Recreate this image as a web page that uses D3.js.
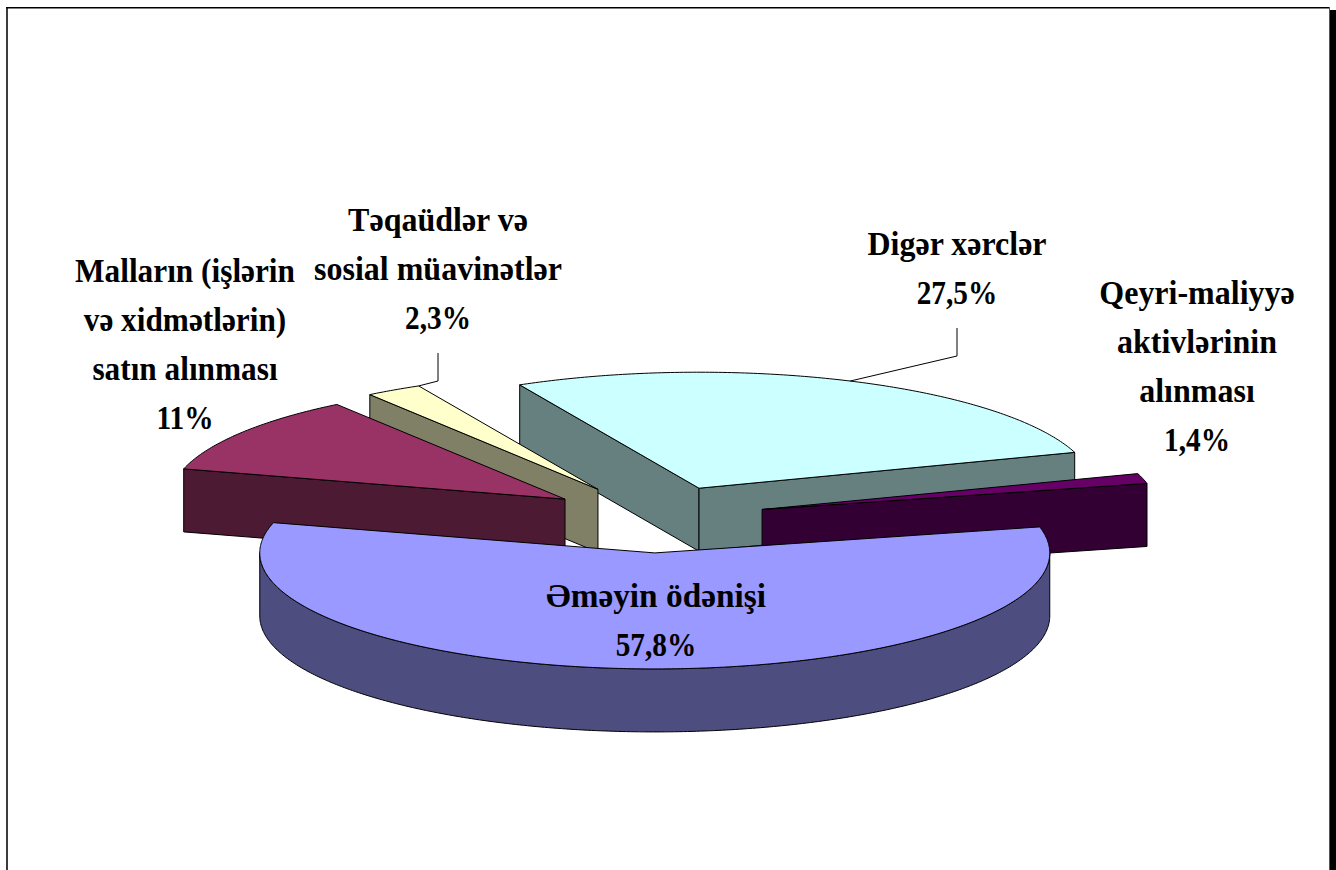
<!DOCTYPE html>
<html>
<head>
<meta charset="utf-8">
<title>Pie</title>
<script src="https://cdnjs.cloudflare.com/ajax/libs/d3/7.8.5/d3.min.js"></script>
<style>
html, body { margin: 0; padding: 0; background: #fff; overflow: hidden; }
svg { display: block; }
text { font-family: "Liberation Serif", serif; font-weight: bold; fill: #000; }
</style>
</head>
<body>
<script>
//values, clockwise from the first slice
var categories = ["Digər xərclər", "Qeyri-maliyyə aktivlərinin alınması", "Əməyin ödənişi", "Malların (işlərin və xidmətlərin) satın alınması", "Təqaüdlər və sosial müavinətlər"];
var shares = [27.5, 1.4, 57.8, 11, 2.3];
var explosion = [27.8, 27.6, 30.1, 28.4, 28.9];

var labelLines = [
	["Digər xərclər"],
	["Qeyri-maliyyə", "aktivlərinin", "alınması"],
	["Əməyin ödənişi"],
	["Malların (işlərin", "və xidmətlərin)", "satın alınması"],
	["Təqaüdlər və", "sosial müavinətlər"]
];

var topColors = ["#CCFFFF", "#660066", "#9999FF", "#993366", "#FFFFCC"];
var wallColors = ["#668080", "#330033", "#4D4D80", "#4D1A33", "#808066"];

var w = 1336;
var h = 870;
var cx = 657, cy = 518;   //centre of the un-exploded pie
var rx = 395, ry = 116;   //radii of the tilted ellipse
var depth = 63;
var firstAngle = -27 * Math.PI / 180;

//where each label block sits: centre x, first baseline
var labelPos = [[957, 255], [1197, 304], [656, 607], [185, 282], [438, 231]];
var lineGap = 49;
var fontSize = 33.5;
//the original font is narrower than Liberation at this height
var nameStretch = [0.955, 0.955, 0.995, 0.935, 0.955];
var shareStretch = 0.875;
//paint order, back to front
var paintOrder = [0, 4, 1, 3, 2];

var svg = d3.select("body")
	.append("svg")
	.attr("width", w)
	.attr("height", h);

//page frame
svg.append("rect").attr("x", 6).attr("y", 7).attr("width", 2).attr("height", h - 7).attr("fill", "#3c3c3c");
svg.append("rect").attr("x", 6).attr("y", 7).attr("width", 1324).attr("height", 1.5).attr("fill", "#000");
svg.append("rect").attr("x", 1329).attr("y", 7).attr("width", 1).attr("height", h - 7).attr("fill", "#555");
svg.append("rect").attr("x", 1330).attr("y", 10).attr("width", 6).attr("height", h - 10).attr("fill", "#000");

var pie = d3.pie().sort(null).startAngle(firstAngle).endAngle(firstAngle + 2 * Math.PI);
var slices = pie(shares);

//unit circle to screen
var sx = d3.scaleLinear().domain([-1, 1]).range([-rx, rx]);
var sy = d3.scaleLinear().domain([-1, 1]).range([-ry, ry]);
var line = d3.line();

function apex(i) {
	var d = slices[i];
	var mid = (d.startAngle + d.endAngle) / 2;
	var e = explosion[i] / 100;
	return [cx + sx(e * Math.sin(mid)), cy + sy(-e * Math.cos(mid))];
}

function rim(i, a, drop) {
	var p = apex(i);
	return [p[0] + sx(Math.sin(a)), p[1] + sy(-Math.cos(a)) + (drop || 0)];
}

function arcPoints(i, a0, a1, drop) {
	var n = Math.max(2, Math.ceil((a1 - a0) * 90));
	return d3.range(n + 1).map(function(k) {
		return rim(i, a0 + (a1 - a0) * k / n, drop);
	});
}

var pieG = svg.append("g");

paintOrder.forEach(function(i) {
	var d = slices[i];
	var g = pieG.append("g");
	var p = apex(i);
	var paint = function(pts, fill) {
		g.append("path")
			.attr("d", line(pts) + "Z")
			.attr("fill", fill)
			.attr("stroke", "#000")
			.attr("stroke-width", 1)
			.attr("stroke-linejoin", "round");
	};

	//flat cut faces, only the ones turned to the viewer
	[[d.startAngle, Math.sin(d.startAngle) < 0], [d.endAngle, Math.sin(d.endAngle) > 0]].forEach(function(e) {
		if (!e[1]) return;
		var r = rim(i, e[0]);
		paint([p, r, [r[0], r[1] + depth], [p[0], p[1] + depth]], wallColors[i]);
	});

	//curved outer wall, front half only
	var a0 = Math.max(d.startAngle, Math.PI / 2);
	var a1 = Math.min(d.endAngle, 3 * Math.PI / 2);
	if (a1 > a0) {
		paint(arcPoints(i, a0, a1, 0).concat(arcPoints(i, a0, a1, depth).reverse()), wallColors[i]);
	}

	//top face
	paint([p].concat(arcPoints(i, d.startAngle, d.endAngle, 0)), topColors[i]);
});

//leader lines, from the rim up to the label
var leaders = [
	{ slice: 0, angle: (slices[0].startAngle + slices[0].endAngle) / 2, corner: [957, 356], end: [957, 328] },
	{ slice: 4, angle: slices[4].endAngle, corner: [438, 381], end: [438, 353] }
];
leaders.forEach(function(l) {
	svg.append("path")
		.attr("d", line([rim(l.slice, l.angle), l.corner, l.end]))
		.attr("fill", "none")
		.attr("stroke", "#000")
		.attr("stroke-width", 1);
});

//labels: name lines then the share
labelLines.forEach(function(lines, i) {
	var all = lines.concat([String(shares[i]).replace(".", ",") + "%"]);
	all.forEach(function(s, k) {
		var kx = k < lines.length ? nameStretch[i] : shareStretch;
		svg.append("text")
			.attr("text-anchor", "middle")
			.attr("font-size", fontSize)
			.attr("transform", "translate(" + labelPos[i][0] + "," + (labelPos[i][1] + k * lineGap) + ") scale(" + kx + ",1)")
			.text(s);
	});
});
</script>
</body>
</html>
